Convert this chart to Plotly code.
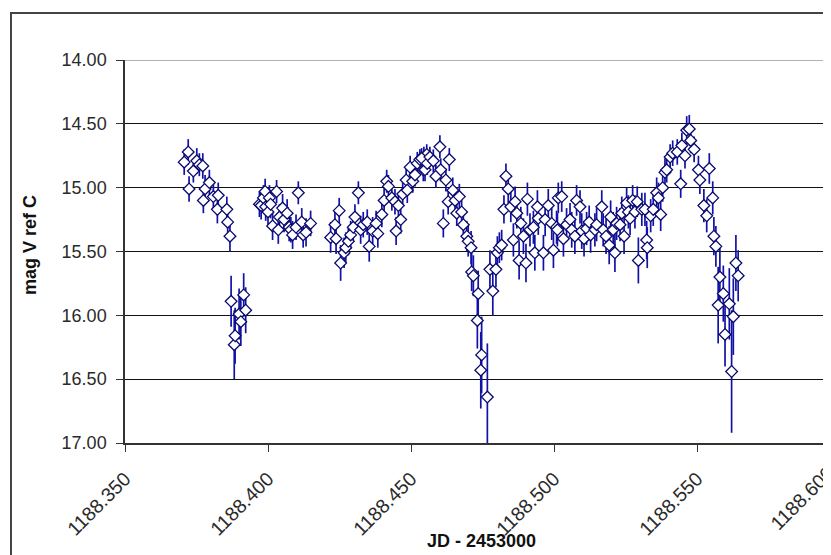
import plotly.graph_objects as go

# ---- data (JD - 2453000, V magnitude, error) ----
jd = [
    # first bright cluster
    1188.3707, 1188.3721, 1188.3724, 1188.3739, 1188.3751, 1188.3760, 1188.3772, 1188.3774,
    1188.3780, 1188.3795, 1188.3809, 1188.3823, 1188.3826, 1188.3856, 1188.3859, 1188.3867,
    # first dip
    1188.3871, 1188.3882, 1188.3885, 1188.3899, 1188.3905, 1188.3915, 1188.3922,
    # second cluster
    1188.3970, 1188.3976, 1188.3984, 1188.3990, 1188.3992, 1188.4000, 1188.4005, 1188.4009,
    1188.4016, 1188.4030, 1188.4036, 1188.4040, 1188.4051, 1188.4056, 1188.4067, 1188.4074,
    1188.4080, 1188.4086, 1188.4098, 1188.4106, 1188.4118, 1188.4123, 1188.4133, 1188.4149,
    # rise to hump
    1188.4219, 1188.4234, 1188.4238, 1188.4249, 1188.4254, 1188.4266, 1188.4272, 1188.4281,
    1188.4289, 1188.4298, 1188.4304, 1188.4316, 1188.4324, 1188.4333, 1188.4347, 1188.4354,
    1188.4366, 1188.4378, 1188.4384, 1188.4398, 1188.4406, 1188.4415, 1188.4421, 1188.4433,
    1188.4444, 1188.4448, 1188.4456, 1188.4464, 1188.4471, 1188.4483, 1188.4487, 1188.4497,
    1188.4506, 1188.4514, 1188.4522, 1188.4531, 1188.4543, 1188.4545, 1188.4555,
    # hump and eclipse
    1188.4537, 1188.4549, 1188.4557, 1188.4566, 1188.4578, 1188.4587, 1188.4601, 1188.4604,
    1188.4613, 1188.4622, 1188.4630, 1188.4634, 1188.4646, 1188.4654, 1188.4660, 1188.4669,
    1188.4677, 1188.4683, 1188.4695, 1188.4700, 1188.4710, 1188.4712, 1188.4718, 1188.4732,
    1188.4735, 1188.4744, 1188.4747, 1188.4767, 1188.4776, 1188.4786, 1188.4797, 1188.4802,
    1188.4809, 1188.4817, 1188.4825, 1188.4832, 1188.4840, 1188.4849, 1188.4858, 1188.4864,
    1188.4870, 1188.4878, 1188.4884, 1188.4893, 1188.4902, 1188.4907, 1188.4916, 1188.4928,
    1188.4933, 1188.4942, 1188.4945, 1188.4963, 1188.4969, 1188.4980, 1188.4992, 1188.4998,
    1188.5009, 1188.5015,
    # plateau
    1188.5012, 1188.5027, 1188.5033, 1188.5044, 1188.5056, 1188.5062, 1188.5073, 1188.5079,
    1188.5091, 1188.5097, 1188.5105, 1188.5114, 1188.5123, 1188.5128, 1188.5143, 1188.5149,
    1188.5167, 1188.5172, 1188.5182, 1188.5193, 1188.5198, 1188.5207, 1188.5213, 1188.5219,
    1188.5231, 1188.5237, 1188.5245, 1188.5254, 1188.5260, 1188.5266, 1188.5275, 1188.5283,
    1188.5291, 1188.5295, 1188.5307, 1188.5318, 1188.5324, 1188.5326, 1188.5338, 1188.5347,
    1188.5359, 1188.5365, 1188.5373,
    # second hump and last eclipse
    1188.5380, 1188.5388, 1188.5394, 1188.5406, 1188.5415, 1188.5431, 1188.5443, 1188.5447,
    1188.5458, 1188.5464, 1188.5473, 1188.5478, 1188.5490, 1188.5505, 1188.5510, 1188.5524,
    1188.5534, 1188.5543, 1188.5555, 1188.5559, 1188.5566, 1188.5574, 1188.5580, 1188.5592,
    1188.5598, 1188.5613, 1188.5621, 1188.5627, 1188.5636, 1188.5644,
]

mag = [
    14.80, 14.72, 15.01, 14.87, 14.79, 14.82, 14.83, 15.10,
    15.01, 14.96, 15.07, 15.17, 15.06, 15.17, 15.27, 15.38,
    15.89, 16.23, 16.16, 15.99, 16.05, 15.84, 15.96,
    15.13, 15.14, 15.08, 15.03, 15.15, 15.19, 15.08, 15.13,
    15.30, 15.03, 15.33, 15.23, 15.16, 15.25, 15.20, 15.31,
    15.33, 15.37, 15.31, 15.04, 15.27, 15.37, 15.35, 15.28,
    15.39, 15.29, 15.40, 15.18, 15.59, 15.51, 15.47, 15.42,
    15.37, 15.31, 15.23, 15.04, 15.33, 15.29, 15.27, 15.46,
    15.34, 15.28, 15.36, 15.21, 15.10, 14.95, 14.99, 15.08,
    15.11, 15.34, 15.14, 15.25, 15.05, 14.94, 15.02, 14.84,
    14.95, 14.90, 14.81, 14.78, 14.86, 14.76, 14.74,
    14.77, 14.86, 14.81, 14.76, 14.79, 14.91, 14.68, 14.86,
    15.28, 14.94, 15.11, 14.78, 15.02, 15.10, 15.20, 15.07,
    15.19, 15.29, 15.38, 15.42, 15.47, 15.66, 15.69, 16.04,
    15.83, 16.43, 16.31, 16.64, 15.64, 15.81, 15.64, 15.51,
    15.47, 15.45, 15.17, 14.91, 15.01, 15.15, 15.41, 15.11,
    15.20, 15.57, 15.28, 15.38, 15.59, 15.09, 15.33, 15.31,
    15.51, 15.15, 15.24, 15.51, 15.25, 15.14, 15.28, 15.49,
    15.31, 15.08,
    15.33, 15.07, 15.40, 15.29, 15.25, 15.33, 15.38, 15.10,
    15.15, 15.34, 15.40, 15.32, 15.27, 15.37, 15.33, 15.29,
    15.15, 15.33, 15.38, 15.45, 15.23, 15.33, 15.51, 15.28,
    15.29, 15.20, 15.38, 15.12, 15.19, 15.24, 15.10, 15.19,
    15.11, 15.57, 15.17, 15.17, 15.41, 15.47, 15.22, 15.17,
    15.04, 15.08, 15.21,
    15.00, 14.88, 14.86, 14.76, 14.73, 14.72, 14.97, 14.67,
    14.75, 14.55, 14.54, 14.63, 14.70, 14.86, 14.94, 15.14,
    15.22, 14.85, 15.08, 15.38, 15.46, 15.92, 15.70, 15.83,
    16.15, 15.91, 16.44, 16.01, 15.59, 15.69,
]

err = [
    0.10, 0.10, 0.10, 0.09, 0.10, 0.09, 0.10, 0.10,
    0.11, 0.10, 0.10, 0.11, 0.10, 0.10, 0.11, 0.12,
    0.20, 0.27, 0.22, 0.20, 0.19, 0.17, 0.18,
    0.10, 0.11, 0.10, 0.10, 0.11, 0.10, 0.10, 0.11,
    0.11, 0.09, 0.11, 0.10, 0.11, 0.10, 0.11, 0.11,
    0.10, 0.11, 0.10, 0.09, 0.11, 0.10, 0.11, 0.10,
    0.12, 0.11, 0.12, 0.10, 0.14, 0.12, 0.12, 0.11,
    0.11, 0.10, 0.10, 0.09, 0.11, 0.10, 0.10, 0.12,
    0.11, 0.10, 0.11, 0.10, 0.10, 0.09, 0.09, 0.10,
    0.10, 0.11, 0.10, 0.11, 0.10, 0.09, 0.10, 0.09,
    0.09, 0.09, 0.09, 0.08, 0.09, 0.08, 0.08,
    0.08, 0.09, 0.09, 0.08, 0.09, 0.09, 0.09, 0.09,
    0.11, 0.09, 0.10, 0.09, 0.10, 0.10, 0.10, 0.10,
    0.11, 0.11, 0.12, 0.12, 0.13, 0.15, 0.16, 0.22,
    0.18, 0.30, 0.30, 0.42, 0.15, 0.19, 0.14, 0.13,
    0.12, 0.12, 0.11, 0.10, 0.11, 0.12, 0.13, 0.12,
    0.12, 0.15, 0.13, 0.14, 0.15, 0.13, 0.13, 0.13,
    0.14, 0.13, 0.13, 0.14, 0.13, 0.13, 0.13, 0.14,
    0.13, 0.12,
    0.13, 0.12, 0.14, 0.13, 0.13, 0.14, 0.14, 0.12,
    0.13, 0.14, 0.14, 0.13, 0.13, 0.14, 0.13, 0.13,
    0.13, 0.13, 0.14, 0.15, 0.13, 0.14, 0.15, 0.13,
    0.13, 0.13, 0.14, 0.12, 0.13, 0.13, 0.12, 0.13,
    0.12, 0.18, 0.13, 0.13, 0.15, 0.16, 0.13, 0.13,
    0.12, 0.12, 0.13,
    0.11, 0.11, 0.10, 0.10, 0.10, 0.10, 0.11, 0.10,
    0.10, 0.11, 0.11, 0.10, 0.10, 0.11, 0.11, 0.13,
    0.13, 0.12, 0.13, 0.15, 0.16, 0.30, 0.25, 0.22,
    0.25, 0.28, 0.48, 0.30, 0.22, 0.20,
]

x_ticks = [1188.35, 1188.40, 1188.45, 1188.50, 1188.55]
x_tick_labels = ["1188.350", "1188.400", "1188.450", "1188.500", "1188.550"]
y_ticks = [14.0, 14.5, 15.0, 15.5, 16.0, 16.5, 17.0]
y_tick_labels = ["14.00", "14.50", "15.00", "15.50", "16.00", "16.50", "17.00"]

x_title = "JD - 2453000"
y_title = "mag V ref C"
edge_tick_label = "1188.600"

FONT = "Liberation Sans, Arial, sans-serif"
TXT = "#2a2a2a"

fig = go.Figure()
fig.add_trace(go.Scatter(
    x=jd, y=mag, mode="markers",
    error_y=dict(type="data", array=err, visible=True, color="#1212a6",
                 thickness=1.7, width=0),
    marker=dict(symbol="diamond", size=9, color="white",
                line=dict(color="#0a0a70", width=1.3)),
    showlegend=False, hoverinfo="x+y",
))

# page has an 8px body margin: figure coordinates = page coordinates - 8
OFF = 8
W, H = 831 - OFF, 555 - OFF
L, R, T, B = 125 - OFF, 831 - OFF, 60 - OFF, 443 - OFF
pw, ph = R - L, B - T

def px(xpage):
    return (xpage - OFF - L) / pw

def py(ypage):
    return (B - (ypage - OFF)) / ph

fig.update_layout(
    width=W, height=H,
    margin=dict(l=L, r=W - R, t=T, b=H - B, pad=0),
    paper_bgcolor="white", plot_bgcolor="white",
    font=dict(family=FONT, size=18, color=TXT),
    xaxis=dict(
        range=[1188.35, 1188.35 + (R - L) / 2860.0],
        tickvals=x_ticks, ticktext=x_tick_labels, tickangle=-45,
        ticks="outside", ticklen=7, tickwidth=1.2, tickcolor="#333",
        showline=True, linecolor="#333", linewidth=1.5,
        showgrid=False, zeroline=False, ticklabelstandoff=8,
        tickfont=dict(family=FONT, size=19.5, color=TXT),
    ),
    yaxis=dict(
        range=[17, 14],
        tickvals=y_ticks, ticktext=y_tick_labels,
        ticks="outside", ticklen=7, tickwidth=1.2, tickcolor="#333",
        showline=True, linecolor="#333", linewidth=1.5,
        showgrid=True, gridcolor="#111", gridwidth=1.2,
        zeroline=False, ticklabelstandoff=6,
        tickfont=dict(family=FONT, size=18, color=TXT),
    ),
    shapes=[
        # outer chart frame
        dict(type="rect", xref="paper", yref="paper",
             x0=px(11), x1=px(831 + 20), y0=py(13), y1=py(555 + 20),
             line=dict(color="#444", width=2), fillcolor="rgba(0,0,0,0)", layer="below"),
        # lighter top gridline
        dict(type="line", xref="paper", yref="y", x0=0, x1=1, y0=14, y1=14,
             line=dict(color="#999", width=1.5)),
    ],
    annotations=[
        dict(text=x_title, xref="paper", yref="paper", x=px(481), y=py(541),
             xanchor="center", yanchor="middle", showarrow=False,
             font=dict(family=FONT, size=18, color="#111", weight="bold")),
        dict(text=y_title, xref="paper", yref="paper", x=px(30), y=py(245),
             xanchor="center", yanchor="middle", showarrow=False, textangle=-90,
             font=dict(family=FONT, size=18, color="#111", weight="bold")),
        dict(text=edge_tick_label, xref="paper", yref="paper", x=px(802), y=py(498),
             xanchor="center", yanchor="middle", showarrow=False, textangle=-45,
             font=dict(family=FONT, size=19.5, color=TXT)),
    ],
)

fig.write_html("out.html")
